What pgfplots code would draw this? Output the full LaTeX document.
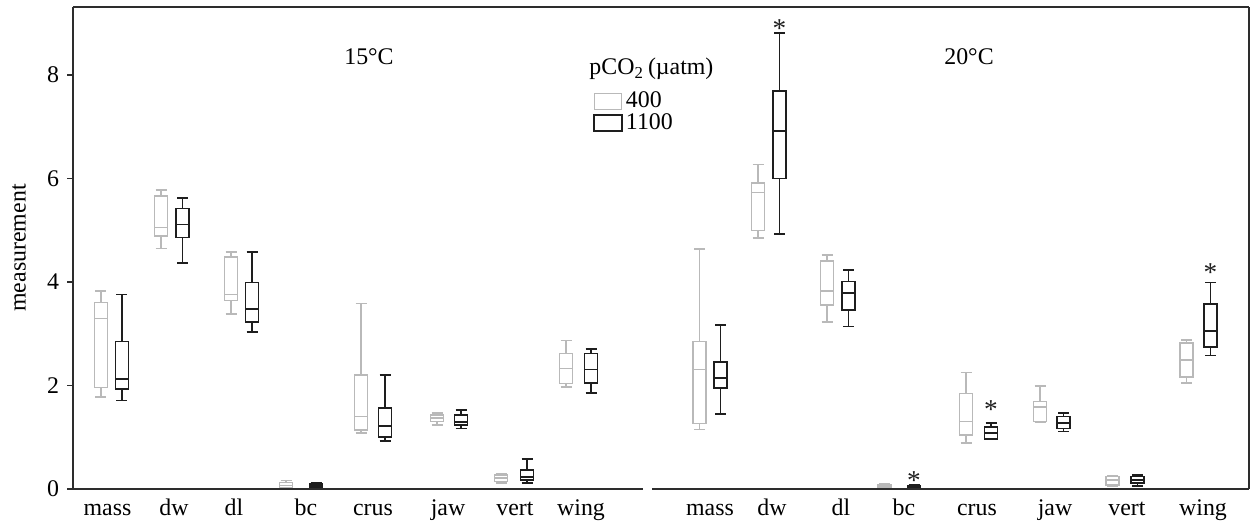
\documentclass[border=0pt]{standalone}
\usepackage{fontspec}
\setmainfont{Liberation Serif}
\usepackage{pgfplots}
\pgfplotsset{compat=1.18}
\usepgfplotslibrary{statistics}
\definecolor{c400}{RGB}{185,185,185}
\definecolor{c1100}{RGB}{30,30,30}
\definecolor{frame}{RGB}{45,45,45}
% one prepared box: style, position, lower whisker, q1, median, q3, upper whisker
\newcommand{\bx}[7]{\addplot[#1, boxplot prepared={draw position=#2,
  lower whisker=#3, lower quartile=#4, median=#5,
  upper quartile=#6, upper whisker=#7}] coordinates {};}
\tikzset{
  g/.style={c400, line width=0.65pt, fill=none},
  k/.style={c1100, line width=0.8pt, fill=none},
}
\begin{document}
\begin{tikzpicture}
\begin{axis}[
  x=0.44pt, y=22.77pt, scale only axis, clip=false,
  xmin=73, xmax=1249, ymin=0, ymax=9.314,
  font=\fontsize{10.5}{12.5}\selectfont,
  /pgf/number format/assume math mode=true,
  separate axis lines,
  axis line style={frame, line width=0.65pt},
  every outer x axis line/.append style={draw=none},
  ytick={0,2,4,6,8}, ytick pos=left, tick align=outside,
  major tick length=2.6pt, tick style={frame, line width=0.6pt},
  xtick={107.5,174,234,306,373,448,515,581,710,772,841,904,977,1055,1127,1203},
  xticklabels={mass,dw,dl,bc,crus,jaw,vert,wing,mass,dw,dl,bc,crus,jaw,vert,wing},
  x tick style={draw=none},
  xticklabel style={text height=1.55ex, text depth=0.45ex, yshift=1.8pt},
  every axis y label/.style={at={(rel axis cs:0,0.5)}, xshift=-23.8pt, rotate=90},
  ylabel={measurement},
  boxplot/draw direction=y,
  boxplot/box extend=13, boxplot/whisker extend=11,
  legend image code/.code={\draw[#1] (0pt,-3.5pt) rectangle (12pt,3.5pt);},
  legend style={at={(axis cs:593,7.75)}, anchor=north west, draw=none, fill=none,
    inner sep=0pt, row sep=-2pt, cells={anchor=west},
    nodes={inner sep=1.5pt}},
  legend cell align=left,
]
\addlegendimage{c400, line width=0.65pt}
\addlegendentry{400}
\addlegendimage{c1100, line width=0.8pt}
\addlegendentry{1100}

% 15 C, pCO2 400
\bx{g}{101}{1.78}{1.96}{3.29}{3.60}{3.83}
\bx{g}{161}{4.65}{4.89}{5.05}{5.66}{5.78}
\bx{g}{231}{3.38}{3.64}{3.76}{4.48}{4.58}
\bx{g}{286}{0.01}{0.02}{0.07}{0.13}{0.16}
\bx{g}{361}{1.08}{1.14}{1.40}{2.20}{3.58}
\bx{g}{437}{1.24}{1.30}{1.37}{1.43}{1.47}
\bx{g}{501}{0.12}{0.14}{0.21}{0.27}{0.30}
\bx{g}{566}{1.97}{2.04}{2.33}{2.62}{2.87}
% 15 C, pCO2 1100
\bx{k}{122}{1.71}{1.93}{2.12}{2.85}{3.76}
\bx{k}{182.5}{4.36}{4.86}{5.11}{5.42}{5.62}
\bx{k}{252}{3.04}{3.23}{3.48}{3.99}{4.58}
\bx{k}{316}{0.01}{0.02}{0.06}{0.10}{0.12}
\bx{k}{385}{0.93}{1.00}{1.22}{1.57}{2.20}
\bx{k}{461}{1.17}{1.24}{1.30}{1.43}{1.53}
\bx{k}{527}{0.11}{0.17}{0.23}{0.37}{0.58}
\bx{k}{591}{1.85}{2.05}{2.31}{2.62}{2.70}
% 20 C, pCO2 400
\bx{g}{699.5}{1.15}{1.27}{2.31}{2.85}{4.64}
\bx{g}{758}{4.85}{5.00}{5.73}{5.91}{6.27}
\bx{g}{827}{3.23}{3.56}{3.83}{4.41}{4.52}
\bx{g}{884.5}{0.01}{0.02}{0.06}{0.08}{0.10}
\bx{g}{966}{0.89}{1.04}{1.30}{1.85}{2.25}
\bx{g}{1040}{1.29}{1.30}{1.58}{1.69}{1.99}
\bx{g}{1112.5}{0.06}{0.08}{0.17}{0.24}{0.26}
\bx{g}{1186.5}{2.05}{2.16}{2.49}{2.82}{2.88}
% 20 C, pCO2 1100
\bx{k}{720.5}{1.45}{1.95}{2.15}{2.46}{3.17}
\bx{k}{779.5}{4.92}{6.00}{6.92}{7.69}{8.81}
\bx{k}{848.5}{3.14}{3.46}{3.78}{4.01}{4.23}
\bx{k}{914}{0.00}{0.01}{0.03}{0.06}{0.07}
\bx{k}{991}{0.96}{0.96}{1.09}{1.20}{1.28}
\bx{k}{1063.5}{1.11}{1.17}{1.27}{1.40}{1.47}
\bx{k}{1137.5}{0.06}{0.11}{0.17}{0.24}{0.27}
\bx{k}{1210.5}{2.58}{2.74}{3.06}{3.57}{3.99}

% significance stars
\addplot[only marks, mark=text, text mark={*}, text mark as node=true,
  text mark style={font=\fontsize{12}{12}\selectfont, text=c1100, inner sep=0pt}]
  coordinates {(779.5,8.9) (914,0.16) (991,1.53) (1210.5,4.19)};

\node at (axis cs:369,8.35) {15°C};
\node at (axis cs:969,8.35) {20°C};
\node[anchor=west, inner sep=0pt] at (axis cs:589,8.12) {pCO\textsubscript{2}\,(µatm)};

\draw[frame, line width=0.65pt] (axis cs:73,9.314) -- (axis cs:1249,9.314);
\draw[frame, line width=0.65pt] (axis cs:73,0) -- (axis cs:643,0);
\draw[frame, line width=0.65pt] (axis cs:652,0) -- (axis cs:1249,0);
\path (axis cs:0,9.449) rectangle (axis cs:1255,-0.676);
\end{axis}
\end{tikzpicture}
\end{document}
